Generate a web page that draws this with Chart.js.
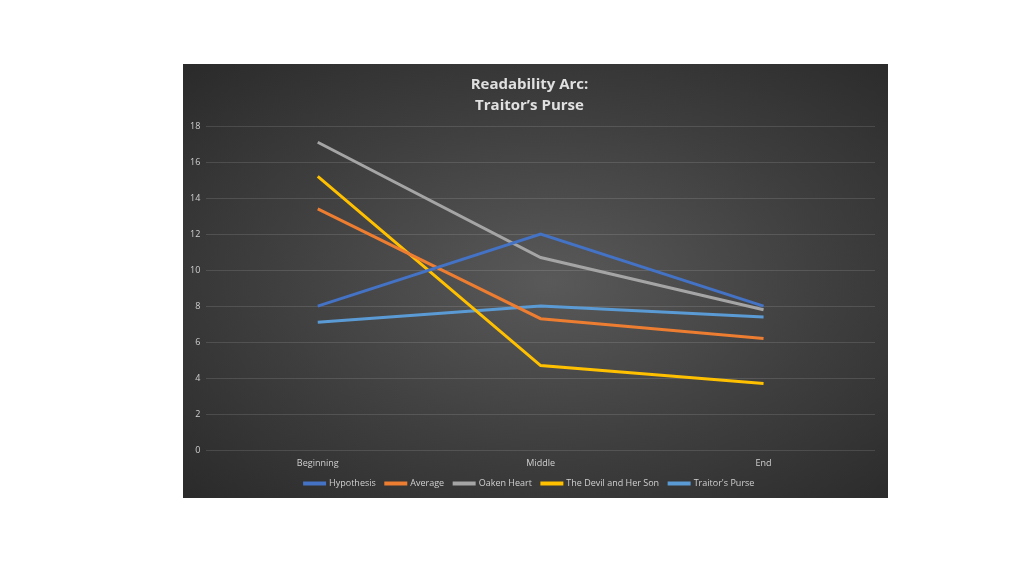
<!DOCTYPE html>
<html>
<head>
<meta charset="utf-8">
<script src="https://cdn.jsdelivr.net/npm/chart.js@4.4.1/dist/chart.umd.min.js"></script>
<style>
  html, body { margin: 0; padding: 0; background: #ffffff; }
  #panel {
    position: absolute;
    left: 183px; top: 64px;
    width: 705px; height: 434px;
    background: radial-gradient(ellipse at 52% 50%, #595959 0%, #3e3e3e 55%, #2a2a2a 100%);
  }
</style>
</head>
<body>
<div id="panel"><canvas id="chart" width="705" height="434"></canvas></div>
<script>
const categories = ['Beginning', 'Middle', 'End'];
const seriesNames = ['Hypothesis', 'Average', 'Oaken Heart', 'The Devil and Her Son', "Traitor's Purse"];
const hypothesis = [8, 12, 8];
const average = [13.4, 7.3, 6.2];
const oakenHeart = [17.1, 10.7, 7.8];
const devilAndHerSon = [15.2, 4.7, 3.7];
const traitorsPurse = [7.1, 8.0, 7.4];
const seriesColors = ['#4472C4', '#ED7D31', '#A5A5A5', '#FFC000', '#5B9BD5'];

const seriesValues = [hypothesis, average, oakenHeart, devilAndHerSon, traitorsPurse];

const ctx = document.getElementById('chart').getContext('2d');
new Chart(ctx, {
    type: 'line',
    data: {
        labels: categories,
        datasets: seriesValues.map((vals, i) => ({
            label: seriesNames[i],
            data: vals,
            borderColor: seriesColors[i],
            backgroundColor: seriesColors[i],
            borderWidth: 3,
            pointRadius: 0,
            tension: 0
        }))
    },
    options: {
        responsive: false,
        animation: false,
        layout: { padding: { left: 1, right: 13, top: 4, bottom: 0 } },
        plugins: {
            title: {
                display: true,
                text: ['Readability Arc:', 'Traitor\u2019s Purse'],
                color: '#e0e0e0',
                font: { family: 'Open Sans', size: 15, weight: 'bold', lineHeight: 1.4 },
                padding: { top: 6, bottom: 10 }
            },
            legend: {
                position: 'bottom',
                labels: {
                    color: '#d0d0d0',
                    font: { family: 'Open Sans', size: 9 },
                    boxWidth: 20,
                    boxHeight: 1,
                    padding: 10
                }
            },
            tooltip: { enabled: false }
        },
        scales: {
            x: {
                offset: true,
                grid: { display: false },
                border: { display: false },
                ticks: { color: '#d0d0d0', font: { family: 'Open Sans', size: 9 }, padding: 0 }
            },
            y: {
                min: 0,
                max: 18,
                ticks: { stepSize: 2, color: '#d0d0d0', font: { family: 'Open Sans', size: 9 }, padding: 6 },
                grid: { color: 'rgba(255,255,255,0.12)', drawTicks: false },
                border: { display: false }
            }
        }
    }
});
</script>
</body>
</html>
